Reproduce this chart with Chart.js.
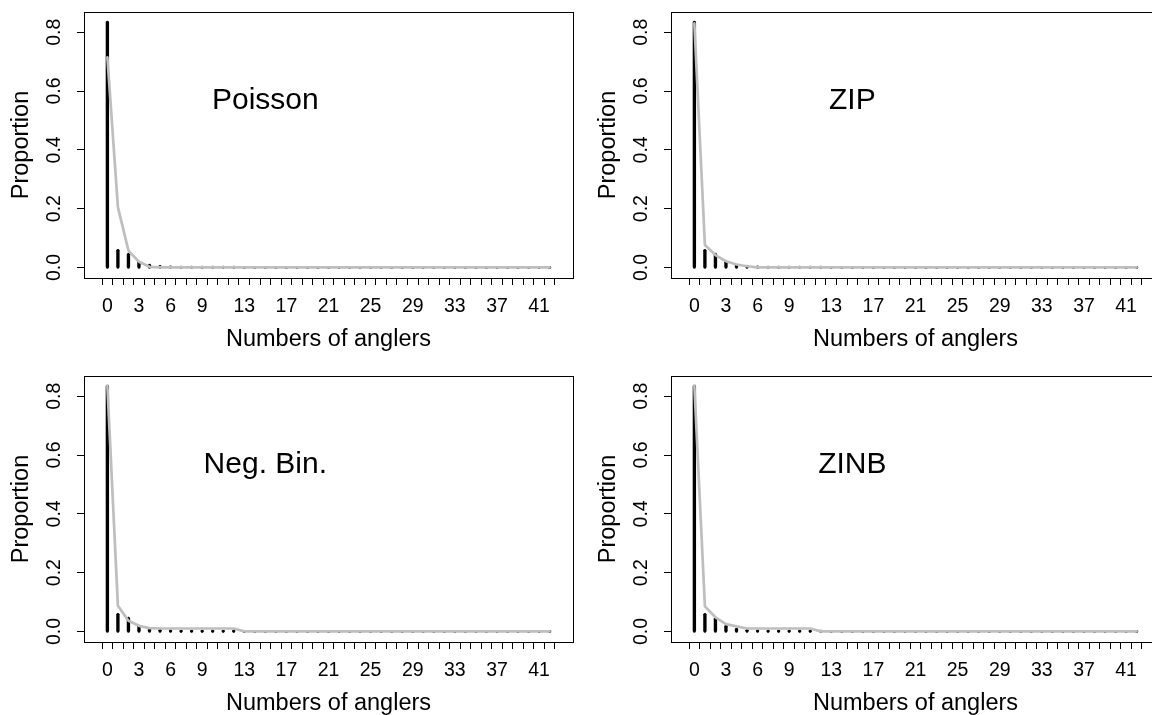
<!DOCTYPE html>
<html>
<head>
<meta charset="utf-8">
<script src="https://cdn.jsdelivr.net/npm/chart.js@4.4.1/dist/chart.umd.min.js"></script>
<style>
  html, body { margin: 0; padding: 0; background: #fff; overflow: hidden; width: 1152px; height: 715px; }
  .panel { position: absolute; width: 586px; height: 364px; }
  .panel canvas { display: block; }
</style>
</head>
<body>
<div class="panel" style="left:0px;top:0px"><canvas id="c1" width="586" height="364"></canvas></div>
<div class="panel" style="left:587px;top:0px"><canvas id="c2" width="586" height="364"></canvas></div>
<div class="panel" style="left:0px;top:364px"><canvas id="c3" width="586" height="364"></canvas></div>
<div class="panel" style="left:587px;top:364px"><canvas id="c4" width="586" height="364"></canvas></div>
<script>
// ---- data ----
const counts = Array.from({length: 43}, (_, i) => i);          // 0..42 anglers
const xTickLabels = [0, 3, 6, 9, 13, 17, 21, 25, 29, 33, 37, 41];
const yTickValues = [0, 0.2, 0.4, 0.6, 0.8];

// observed proportions (black spikes), index = number of anglers
const observed = [0.835, 0.058, 0.045, 0.018, 0.008, 0.004, 0.002, 0.001, 0.001, 0.001, 0.001, 0.001, 0.001];

// fitted proportions (grey lines)
const fitPoisson = [0.715, 0.205, 0.057, 0.019, 0.002, 0.000];
const fitZIP     = [0.830, 0.076, 0.042, 0.021, 0.010, 0.004, 0.000];
const fitNegBin  = [0.836, 0.087, 0.036, 0.019, 0.011, 0.010, 0.010, 0.010, 0.010, 0.010, 0.010, 0.010, 0.010, 0.000];
const fitZINB    = [0.836, 0.085, 0.048, 0.025, 0.017, 0.010, 0.010, 0.010, 0.010, 0.010, 0.010, 0.010, 0.000];

const panels = [
  {id: 'c1', label: 'Poisson',   fitted: fitPoisson},
  {id: 'c2', label: 'ZIP',       fitted: fitZIP},
  {id: 'c3', label: 'Neg. Bin.', fitted: fitNegBin},
  {id: 'c4', label: 'ZINB',      fitted: fitZINB}
];

const FONT = "'Liberation Sans', Arial, Helvetica, sans-serif";
const LWD = 2.7;

const boxPlugin = {
  id: 'rbox',
  afterDraw(chart) {
    const {ctx, chartArea: a} = chart;
    ctx.save();
    ctx.strokeStyle = '#000';
    ctx.lineWidth = 1;
    ctx.strokeRect(Math.round(a.left) + 0.5, Math.round(a.top) + 0.5,
                   Math.round(a.right - a.left), Math.round(a.bottom - a.top));
    ctx.restore();
  }
};

const labelPlugin = {
  id: 'panelLabel',
  afterDatasetsDraw(chart, args, opts) {
    const {ctx} = chart;
    const x = chart.scales.x.getPixelForValue(opts.x);
    const y = chart.scales.y.getPixelForValue(opts.y);
    ctx.save();
    ctx.font = '30px ' + FONT;
    ctx.fillStyle = '#000';
    ctx.textAlign = 'center';
    ctx.textBaseline = 'alphabetic';
    ctx.fillText(opts.text, x, y + 0.358 * 30);
    ctx.restore();
  }
};

function pad(arr) {
  return counts.map(c => (c < arr.length ? arr[c] : 0));
}

function noPad(s) { s.paddingTop = 0; s.paddingBottom = 0; s.paddingLeft = 0; s.paddingRight = 0; }

panels.forEach(p => {
  const obsVals = pad(observed);
  const obs = obsVals.map((v, i) => ({x: counts[i], y: v}));
  // round line ends of the spikes (as R draws type = "h" with round caps)
  const caps = [];
  obsVals.forEach((v, i) => { caps.push({x: counts[i], y: 0}); caps.push({x: counts[i], y: v}); });
  const fit = pad(p.fitted).map((v, i) => ({x: counts[i], y: v}));
  new Chart(document.getElementById(p.id), {
    type: 'bar',
    data: {
      datasets: [
        {
          type: 'line',
          label: 'fitted',
          data: fit,
          borderColor: '#bebebe',
          borderWidth: LWD,
          pointRadius: 0,
          tension: 0,
          borderJoinStyle: 'round',
          borderCapStyle: 'round',
          order: 0
        },
        {
          type: 'scatter',
          label: 'observed caps',
          data: caps,
          pointRadius: LWD / 2,
          pointBackgroundColor: '#000',
          pointBorderWidth: 0,
          showLine: false,
          order: 1
        },
        {
          type: 'bar',
          label: 'observed',
          data: obs,
          backgroundColor: '#000',
          borderWidth: 0,
          barThickness: LWD,
          order: 2
        }
      ]
    },
    options: {
      responsive: false,
      maintainAspectRatio: false,
      animation: false,
      devicePixelRatio: 1,
      layout: {padding: {top: 12, right: 13, bottom: 0, left: 0}},
      plugins: {
        legend: {display: false},
        tooltip: {enabled: false},
        panelLabel: {text: p.label, x: 15, y: 0.575}
      },
      scales: {
        x: {
          type: 'linear',
          min: -1.68,
          max: 43.68,
          afterBuildTicks: s => { s.ticks = counts.map(v => ({value: v})); },
          afterFit: s => { s.height = 86; noPad(s); },
          grid: {drawOnChartArea: false, drawTicks: true, tickLength: 7, color: '#000', lineWidth: 1},
          border: {display: false},
          ticks: {
            autoSkip: false, maxRotation: 0, minRotation: 0, padding: 10,
            color: '#000', font: {family: FONT, size: 19.5},
            callback: v => (xTickLabels.includes(v) ? String(v) : '')
          },
          title: {
            display: true, text: 'Numbers of anglers', color: '#000',
            font: {family: FONT, size: 23.5, lineHeight: 1.2},
            padding: {top: 0, bottom: 10.6}
          }
        },
        y: {
          type: 'linear',
          min: -0.036,
          max: 0.869,
          afterBuildTicks: s => { s.ticks = yTickValues.map(v => ({value: v})); },
          afterFit: s => { s.width = 84; noPad(s); },
          grid: {drawOnChartArea: false, drawTicks: true, tickLength: 7, color: '#000', lineWidth: 1},
          border: {display: false},
          ticks: {
            autoSkip: false, minRotation: 90, maxRotation: 90, crossAlign: 'center', padding: 8.4,
            color: '#000', font: {family: FONT, size: 19.5},
            callback: v => v.toFixed(1)
          },
          title: {
            display: true, text: 'Proportion', color: '#000',
            font: {family: FONT, size: 23.5, lineHeight: 1.2},
            padding: {top: 7.6, bottom: 0}
          }
        }
      }
    },
    plugins: [boxPlugin, labelPlugin]
  });
});
</script>
</body>
</html>
